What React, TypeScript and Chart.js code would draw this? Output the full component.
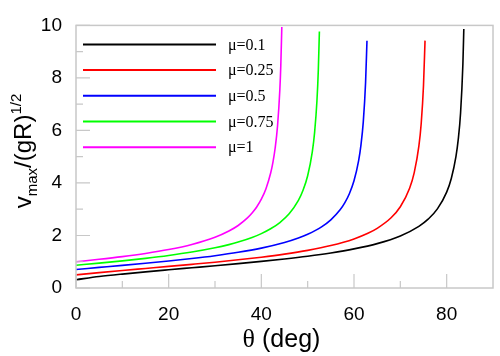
import React, { useEffect, useRef } from "react";
import { Chart, registerables } from "chart.js";
Chart.register(...registerables);

const X_TICKS = [0, 20, 40, 60, 80];
const X_MINOR = [10, 30, 50, 70];
const Y_TICKS = [0, 2, 4, 6, 8, 10];
const Y_MINOR = [1, 3, 5, 7, 9];

const LABELS = ["μ=0.1", "μ=0.25", "μ=0.5", "μ=0.75", "μ=1"];
const COLORS = ["#000000", "#ff0000", "#0000ff", "#00ff00", "#ff00ff"];

const THETA_MU010 = [0, 5, 10, 15, 20, 25, 30, 35, 40, 45, 50, 55, 60, 65, 70, 74, 76, 78, 80, 81, 82, 82.5, 83, 83.5, 83.7];
const V_MU010 = [0.316, 0.435, 0.53, 0.615, 0.694, 0.771, 0.848, 0.928, 1.013, 1.106, 1.211, 1.335, 1.489, 1.69, 1.982, 2.347, 2.62, 3.012, 3.651, 4.171, 5.001, 5.658, 6.666, 8.519, 9.86];

const THETA_MU025 = [0, 5, 10, 15, 20, 25, 30, 35, 40, 45, 50, 55, 60, 63, 65, 68, 70, 72, 73, 74, 74.5, 75, 75.33];
const V_MU025 = [0.5, 0.587, 0.668, 0.745, 0.822, 0.901, 0.983, 1.073, 1.174, 1.291, 1.433, 1.616, 1.87, 2.084, 2.272, 2.674, 3.094, 3.799, 4.395, 5.4, 6.256, 7.71, 9.42];

const THETA_MU050 = [0, 5, 10, 15, 20, 25, 30, 35, 40, 45, 48, 50, 53, 55, 57, 58, 59, 60, 61, 61.5, 62, 62.5, 62.8];
const V_MU050 = [0.707, 0.784, 0.861, 0.942, 1.028, 1.123, 1.231, 1.359, 1.519, 1.732, 1.903, 2.046, 2.33, 2.597, 2.978, 3.242, 3.591, 4.082, 4.849, 5.441, 6.318, 7.828, 9.417];

const THETA_MU075 = [0, 5, 10, 15, 20, 25, 30, 33, 35, 38, 40, 42, 44, 46, 48, 49, 50, 51, 51.5, 52, 52.3, 52.53];
const V_MU075 = [0.866, 0.947, 1.033, 1.129, 1.238, 1.368, 1.53, 1.652, 1.748, 1.923, 2.071, 2.255, 2.494, 2.827, 3.338, 3.721, 4.276, 5.185, 5.928, 7.12, 8.308, 9.77];

const THETA_MU100 = [0, 5, 10, 15, 20, 25, 30, 33, 35, 37, 38, 39, 40, 41, 42, 42.5, 43, 43.5, 44, 44.2, 44.42];
const V_MU100 = [1, 1.092, 1.195, 1.316, 1.464, 1.658, 1.932, 2.169, 2.381, 2.668, 2.854, 3.085, 3.381, 3.782, 4.368, 4.786, 5.351, 6.18, 7.569, 8.463, 9.94];

const SERIES_X = [THETA_MU010, THETA_MU025, THETA_MU050, THETA_MU075, THETA_MU100];
const SERIES_Y = [V_MU010, V_MU025, V_MU050, V_MU075, V_MU100];

const FRAME = "#c8c8c8";
const SANS = "'Liberation Sans', Arial, sans-serif";
const SERIF = "'Liberation Serif', 'Times New Roman', serif";

const decorPlugin = {
  id: "decor",
  afterDatasetsDraw(chart: any) {
    const ctx = chart.ctx;
    const { left, right, top, bottom } = chart.chartArea;
    const xs = chart.scales.x;
    const ys = chart.scales.y;
    ctx.save();
    // frame
    ctx.strokeStyle = FRAME;
    ctx.lineWidth = 1.5;
    ctx.strokeRect(left, top, right - left, bottom - top);
    // inward ticks
    ctx.lineWidth = 1.2;
    ctx.beginPath();
    X_TICKS.forEach((v) => {
      const px = xs.getPixelForValue(v);
      ctx.moveTo(px, bottom);
      ctx.lineTo(px, bottom - 14);
    });
    X_MINOR.forEach((v) => {
      const px = xs.getPixelForValue(v);
      ctx.moveTo(px, bottom);
      ctx.lineTo(px, bottom - 7);
    });
    Y_TICKS.forEach((v) => {
      const py = ys.getPixelForValue(v);
      ctx.moveTo(left, py);
      ctx.lineTo(left + 14, py);
    });
    Y_MINOR.forEach((v) => {
      const py = ys.getPixelForValue(v);
      ctx.moveTo(left, py);
      ctx.lineTo(left + 7, py);
    });
    ctx.stroke();

    // legend
    chart.data.datasets.forEach((ds: any, i: number) => {
      const y = top + 19 + i * 25.7;
      ctx.strokeStyle = ds.borderColor;
      ctx.lineWidth = 2;
      ctx.beginPath();
      ctx.moveTo(left + 7, y);
      ctx.lineTo(left + 140, y);
      ctx.stroke();
      ctx.fillStyle = "#000";
      ctx.font = `16px ${SERIF}`;
      ctx.textAlign = "left";
      ctx.textBaseline = "middle";
      ctx.fillText(ds.label, left + 152, y + 1);
    });

    // x title
    ctx.fillStyle = "#000";
    ctx.textBaseline = "alphabetic";
    ctx.textAlign = "left";
    ctx.font = `26px ${SERIF}`;
    const th = "θ";
    const thW = ctx.measureText(th).width;
    ctx.font = `25px ${SANS}`;
    const rest = " (deg)";
    const restW = ctx.measureText(rest).width;
    const cx = (left + right) / 2 - 3;
    const x0 = cx - (thW + restW) / 2;
    ctx.font = `26px ${SERIF}`;
    ctx.fillText(th, x0, 347);
    ctx.font = `25px ${SANS}`;
    ctx.fillText(rest, x0 + thW, 347);

    // y title
    const parts = [
      { t: "v", f: `24px ${SANS}`, dy: 0 },
      { t: "max", f: `15px ${SANS}`, dy: 6 },
      { t: "/(gR)", f: `24px ${SANS}`, dy: 0 },
      { t: "1/2", f: `15px ${SANS}`, dy: -10 },
    ];
    let total = 0;
    const widths = parts.map((p) => {
      ctx.font = p.f;
      const w = ctx.measureText(p.t).width;
      total += w;
      return w;
    });
    ctx.translate(31, 151 + total / 2);
    ctx.rotate(-Math.PI / 2);
    let px = 0;
    parts.forEach((p, i) => {
      ctx.font = p.f;
      ctx.fillText(p.t, px, p.dy);
      px += widths[i];
    });
    ctx.restore();
  },
};

export default function App() {
  const ref = useRef<HTMLCanvasElement>(null);
  useEffect(() => {
    if (!ref.current) return;
    const chart = new Chart(ref.current, {
      type: "line",
      data: {
        datasets: LABELS.map((label, i) => ({
          label,
          data: SERIES_X[i].map((x, j) => ({ x, y: SERIES_Y[i][j] })),
          borderColor: COLORS[i],
          backgroundColor: COLORS[i],
          borderWidth: 1.6,
          pointRadius: 0,
          fill: false,
          cubicInterpolationMode: "monotone" as const,
        })),
      },
      options: {
        animation: false,
        responsive: false,
        devicePixelRatio: 1,
        layout: { padding: { top: 10, right: 7, left: 0, bottom: 0 } },
        plugins: { legend: { display: false }, tooltip: { enabled: false }, title: { display: false } },
        scales: {
          x: {
            type: "linear",
            min: 0,
            max: 90,
            afterBuildTicks: (s: any) => {
              s.ticks = X_TICKS.map((v) => ({ value: v }));
            },
            afterFit: (s: any) => {
              s.height = 68;
            },
            grid: { display: false, drawTicks: false },
            border: { display: false },
            ticks: { font: { family: SANS, size: 19 }, color: "#000", padding: 15, maxRotation: 0 },
          },
          y: {
            type: "linear",
            min: 0,
            max: 10,
            afterBuildTicks: (s: any) => {
              s.ticks = Y_TICKS.map((v) => ({ value: v }));
            },
            afterFit: (s: any) => {
              s.width = 76;
            },
            grid: { display: false, drawTicks: false },
            border: { display: false },
            ticks: { font: { family: SANS, size: 19 }, color: "#000", padding: 14 },
          },
        },
      },
      plugins: [decorPlugin],
    });
    return () => chart.destroy();
  }, []);
  return (
    <div style={{ position: "fixed", left: 0, top: 0, width: 500, height: 356, background: "#fff" }}>
      <canvas ref={ref} width={500} height={356} style={{ width: 500, height: 356, display: "block" }} />
    </div>
  );
}
